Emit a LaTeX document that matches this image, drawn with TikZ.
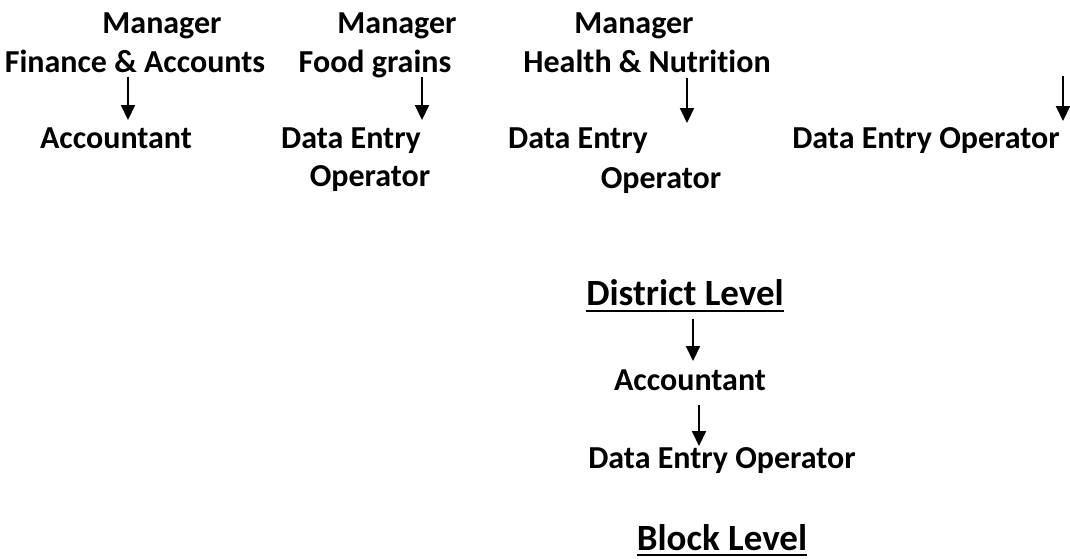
\documentclass[tikz,border=0pt]{standalone}
\usepackage{fontspec}
\setmainfont[Ligatures={NoCommon}]{Carlito}
\usetikzlibrary{arrows.meta}
\tikzset{
  lbl/.style={inner sep=0pt, anchor=base, font=\bfseries\fontsize{32}{38}\selectfont},
  lvl/.style={inner sep=0pt, anchor=base, font=\bfseries\fontsize{37}{44}\selectfont},
  arr/.style={line width=2pt, -{Triangle[width=14pt,length=15pt]}},
  ul/.style={line width=2pt}
}
\begin{document}
\begin{tikzpicture}[x=1pt,y=-1pt]
\useasboundingbox (0,0) rectangle (1070,558);
% top row
\node[lbl] (m1) at (162,33) {Manager};
\node[lbl] (f1) at (135,72) {Finance \& Accounts};
\node[lbl] (a1) at (116,148) {Accountant};
\node[lbl] (m2) at (397,33) {Manager};
\node[lbl] (f2) at (375,72) {Food grains};
\node[lbl] (d2) at (351,148) {Data Entry};
\node[lbl] (o2) at (370,186) {Operator};
\node[lbl] (m3) at (634,33) {Manager};
\node[lbl] (f3) at (647,72) {Health \& Nutrition};
\node[lbl] (d3) at (578,148) {Data Entry};
\node[lbl] (o3) at (661,188) {Operator};
\node[lbl] (d4) at (926,148) {Data Entry Operator};
% arrows top
\coordinate (s1) at (128,77); \coordinate (e1) at (128,120);
\coordinate (s2) at (422,77); \coordinate (e2) at (422,120);
\coordinate (s3) at (687,78); \coordinate (e3) at (687,123);
\coordinate (s4) at (1063,76); \coordinate (e4) at (1063,121);
\draw[arr] (s1) -- (e1);
\draw[arr] (s2) -- (e2);
\draw[arr] (s3) -- (e3);
\draw[arr] (s4) -- (e4);
% district
\node[lvl] (dl) at (685,305) {District Level};
\draw[ul] ([yshift=-6pt]dl.base west) -- ([yshift=-6pt]dl.base east);
\coordinate (s5) at (693,319); \coordinate (e5) at (693,361);
\draw[arr] (s5) -- (e5);
\node[lbl] (da) at (690,390) {Accountant};
\coordinate (s6) at (699,405); \coordinate (e6) at (699,446);
\draw[arr] (s6) -- (e6);
\node[lbl] (dd) at (722,468) {Data Entry Operator};
% block
\node[lvl] (bl) at (722,550) {Block Level};
\draw[ul] ([yshift=-5pt]bl.base west) -- ([yshift=-5pt]bl.base east);
\end{tikzpicture}
\end{document}
